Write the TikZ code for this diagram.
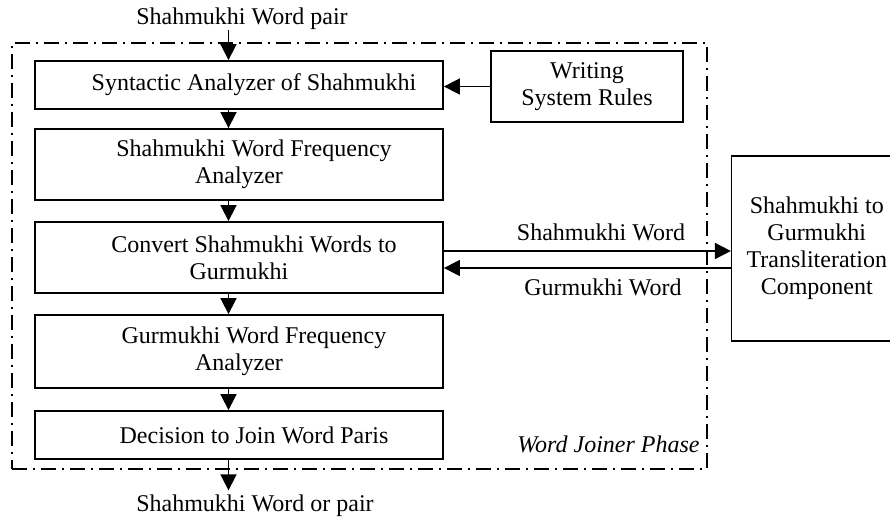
\documentclass[tikz,border=0pt]{standalone}
\usepackage{fontspec}
\setmainfont{Liberation Serif}
\usetikzlibrary{arrows.meta}
\begin{document}
\begin{tikzpicture}[x=0.5pt,y=-0.5pt,
  font=\fontsize{12}{13.5}\selectfont,
  box/.style={draw, line width=0.9pt, inner sep=0pt, align=center},
  arr/.style={line width=0.8pt, -{Triangle[width=8pt,length=8pt]}},
  lbl/.style={inner sep=0pt, anchor=base},
  frame/.style={draw, line width=0.7pt, dash pattern=on 7.5pt off 3pt on 1pt off 3pt, inner sep=0pt}]
\useasboundingbox (0,0) rectangle (890,520);

% outer phase frame
\node[frame, minimum width=347.5pt, minimum height=213pt] (fr) at (359.5,256) {};
\node[lbl, anchor=base east, font=\fontsize{12}{13.5}\selectfont\itshape] (wj) at (700,452) {Word Joiner Phase};

% main chain
\node[box, minimum width=204pt, minimum height=24pt] (b1) at (239,85) {\hspace*{15pt}Syntactic Analyzer of Shahmukhi};
\node[box, minimum width=204pt, minimum height=35.5pt] (b2) at (239,164.5) {\hspace*{15pt}Shahmukhi Word Frequency\\Analyzer};
\node[box, minimum width=204pt, minimum height=35.5pt] (b3) at (239,257.5) {\hspace*{15pt}Convert Shahmukhi Words to\\Gurmukhi};
\node[box, minimum width=204pt, minimum height=36.5pt] (b4) at (239,351.5) {\hspace*{15pt}Gurmukhi Word Frequency\\Analyzer};
\node[box, minimum width=204pt, minimum height=24pt] (b5) at (239,435) {\hspace*{15pt}Decision to Join Word Paris};

% side boxes
\node[box, minimum width=96pt, minimum height=35.5pt] (wr) at (587,86.5) {Writing\\System Rules};
\node[box, line width=0.6pt, minimum width=85.25pt, minimum height=92.5pt] (tr) at (816.75,248.5) {Shahmukhi to\\Gurmukhi\\Transliteration\\Component};

% input / output labels
\node[lbl] (tin) at (242,24.5) {Shahmukhi Word pair};
\node[lbl] (tout) at (255,511) {Shahmukhi Word or pair};
\node[lbl] (sw) at (601,240) {Shahmukhi Word};
\node[lbl] (gw) at (603,295) {Gurmukhi Word};

\coordinate (ax) at (228.5,0);
\coordinate (up) at (0,251);
\coordinate (dn) at (0,268);

% connectors
\draw[arr] (tin.south -| ax) -- (b1.north -| ax);
\draw[arr] (b1.south -| ax) -- (b2.north -| ax);
\draw[arr] (b2.south -| ax) -- (b3.north -| ax);
\draw[arr] (b3.south -| ax) -- (b4.north -| ax);
\draw[arr] (b4.south -| ax) -- (b5.north -| ax);
\draw[arr, shorten >=1.8pt] (b5.south -| ax) -- (tout.north -| ax);
\draw[arr] (wr.west) -- (wr.west -| b1.east);
\draw[arr] (b3.east |- up) -- (tr.west |- up);
\draw[arr] (tr.west |- dn) -- (b3.east |- dn);
\end{tikzpicture}
\end{document}
